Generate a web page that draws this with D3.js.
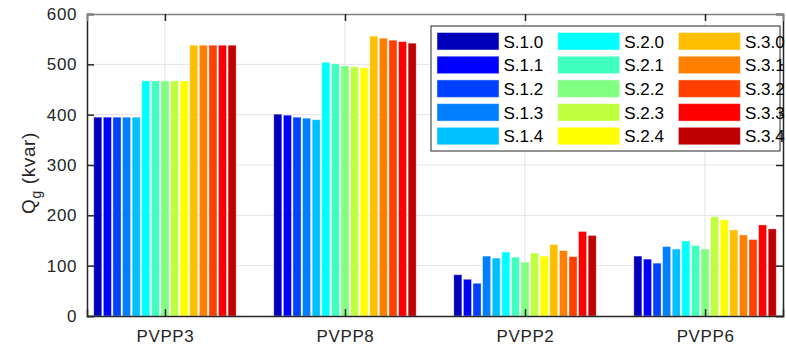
<!DOCTYPE html>
<html>
<head>
<meta charset="utf-8">
<script src="https://cdn.jsdelivr.net/npm/d3@7"></script>
<style>
  body { margin: 0; background: #fff; }
  svg { display: block; font-family: 'Liberation Sans', Arial, sans-serif; }
</style>
</head>
<body>
<div id="chart-area"></div>
<script>
// Data
const groups = ['PVPP3', 'PVPP8', 'PVPP2', 'PVPP6'];
const seriesNames = ['S.1.0', 'S.1.1', 'S.1.2', 'S.1.3', 'S.1.4',
                     'S.2.0', 'S.2.1', 'S.2.2', 'S.2.3', 'S.2.4',
                     'S.3.0', 'S.3.1', 'S.3.2', 'S.3.3', 'S.3.4'];
const seriesColors = ['#0000bb', '#0000ff', '#0040ff', '#0080ff', '#00c0ff',
                      '#00ffff', '#40ffbf', '#80ff80', '#bfff40', '#ffff00',
                      '#ffbf00', '#ff8000', '#ff4000', '#ff0000', '#bf0000'];
// one array per group, ordered like seriesNames
const pvpp3 = [395, 395, 395, 395, 395, 467, 467, 467, 467, 467, 538, 538, 538, 538, 538];
const pvpp8 = [401, 399, 395, 393, 390, 504, 501, 497, 495, 493, 556, 552, 548, 545, 542];
const pvpp2 = [82, 73, 65, 119, 115, 127, 117, 107, 125, 119, 142, 130, 118, 168, 160];
const pvpp6 = [119, 113, 105, 138, 133, 149, 140, 133, 197, 191, 171, 161, 152, 181, 173];
const groupValues = [pvpp3, pvpp8, pvpp2, pvpp6];
const yTicks = [0, 100, 200, 300, 400, 500, 600];

const width = 786;
const height = 349;
const margin = { left: 87, right: 3, top: 14, bottom: 33 };
const chartWidth = width - margin.left - margin.right;
const chartHeight = height - margin.top - margin.bottom;

const svg = d3.select('#chart-area')
    .append('svg')
    .attr('width', width)
    .attr('height', height);

const chartGroup = svg.append('g')
    .attr('transform', `translate(${margin.left}, ${margin.top})`);

// Scales
const x = d3.scalePoint()
    .domain(groups)
    .range([0, chartWidth])
    .padding(0.433);

const inner = d3.scaleBand()
    .domain(seriesNames)
    .range([-71.2, 71.2])
    .paddingInner(0.16);

const y = d3.scaleLinear()
    .domain([0, 600])
    .range([chartHeight, 0]);

const color = d3.scaleOrdinal()
    .domain(seriesNames)
    .range(seriesColors);

// Grid
chartGroup.append('g')
    .selectAll('line')
    .data(yTicks.slice(1, -1))
    .join('line')
    .attr('x1', 0)
    .attr('x2', chartWidth)
    .attr('y1', (d) => y(d))
    .attr('y2', (d) => y(d))
    .attr('stroke', '#e3e3e3');

chartGroup.append('g')
    .selectAll('line')
    .data(groups)
    .join('line')
    .attr('x1', (d) => x(d))
    .attr('x2', (d) => x(d))
    .attr('y1', 0)
    .attr('y2', chartHeight)
    .attr('stroke', '#e3e3e3');

// Bars
const groupSel = chartGroup.selectAll('.grp')
    .data(groups)
    .join('g')
    .attr('class', 'grp')
    .attr('transform', (d) => `translate(${x(d)}, 0)`);

groupSel.selectAll('rect')
    .data((d, i) => groupValues[i].map((v, j) => ({ name: seriesNames[j], value: v })))
    .join('rect')
    .attr('x', (d) => inner(d.name))
    .attr('width', inner.bandwidth())
    .attr('y', (d) => y(d.value))
    .attr('height', (d) => chartHeight - y(d.value))
    .attr('fill', (d) => color(d.name))
    .attr('stroke', 'rgba(255,255,255,0.45)')
    .attr('stroke-width', 0.8);

// Axes
const axisColor = '#262626';
const yAxisCall = d3.axisLeft(y).tickValues(yTicks).tickSize(-7).tickPadding(10);
const yAxisGroup = chartGroup.append('g').call(yAxisCall);
const yAxisRight = chartGroup.append('g')
    .attr('transform', `translate(${chartWidth}, 0)`)
    .call(d3.axisRight(y).tickValues(yTicks).tickSize(-7).tickFormat(''));

const xAxisCall = d3.axisBottom(x).tickSize(-7).tickPadding(14);
const xAxisGroup = chartGroup.append('g')
    .attr('transform', `translate(0, ${chartHeight})`)
    .call(xAxisCall);
const xAxisTop = chartGroup.append('g')
    .call(d3.axisTop(x).tickSize(-7).tickFormat(''));

[yAxisGroup, yAxisRight, xAxisGroup, xAxisTop].forEach((g) => {
    g.select('.domain').attr('stroke', axisColor).attr('stroke-width', 1.5);
    g.selectAll('.tick line').attr('stroke', axisColor).attr('stroke-width', 1.5);
    g.selectAll('.tick text')
        .attr('fill', axisColor)
        .attr('font-size', '17px')
        .attr('letter-spacing', '0.6px')
        .attr('font-family', "'Liberation Sans', Arial, sans-serif");
});
xAxisTop.select('.domain').attr('stroke', '#808080');

// Y label
chartGroup.append('text')
    .attr('transform', `translate(-52, ${chartHeight / 2 + 8}) rotate(-90)`)
    .attr('text-anchor', 'middle')
    .attr('font-size', '19px')
    .attr('letter-spacing', '0.6px')
    .attr('fill', axisColor)
    .html('Q<tspan font-size="14px" dy="6">g</tspan><tspan dy="-6">  (kvar)</tspan>');

// Legend
const legend = svg.append('g')
    .attr('transform', 'translate(431, 26)');

legend.append('rect')
    .attr('width', 349)
    .attr('height', 125)
    .attr('fill', '#fff')
    .attr('stroke', axisColor)
    .attr('stroke-width', 1);

seriesNames.forEach((name, i) => {
    const col = Math.floor(i / 5);
    const row = i % 5;
    const legendRow = legend.append('g')
        .attr('transform', `translate(${6 + col * 120.7}, ${6.5 + row * 23.7})`);

    legendRow.append('rect')
        .attr('width', 62)
        .attr('height', 17.5)
        .attr('fill', color(name))
        .attr('stroke', 'rgba(255,255,255,0.45)');

    legendRow.append('text')
        .attr('x', 66.5)
        .attr('y', 15)
        .attr('font-size', '17px')
        .attr('fill', '#000')
        .text(name);
});
</script>
</body>
</html>
